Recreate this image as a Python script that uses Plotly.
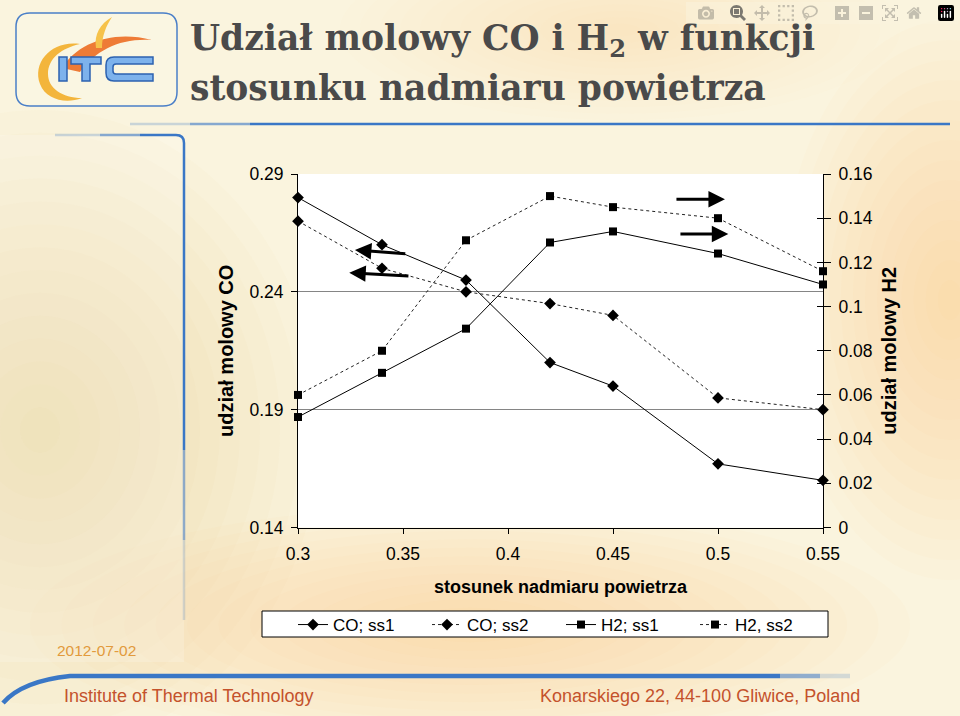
import plotly.graph_objects as go

W, H = 960, 716

# ---------------- data ----------------
x_ratio = [0.30, 0.34, 0.38, 0.42, 0.45, 0.50, 0.55]
co_ss1 = [0.280, 0.260, 0.245, 0.210, 0.200, 0.167, 0.160]
co_ss2 = [0.270, 0.250, 0.240, 0.235, 0.230, 0.195, 0.190]
h2_ss1 = [0.050, 0.070, 0.090, 0.129, 0.134, 0.124, 0.110]
h2_ss2 = [0.060, 0.080, 0.130, 0.150, 0.145, 0.140, 0.116]

x_ticks = [0.30, 0.35, 0.40, 0.45, 0.50, 0.55]
x_ticktext = ["0.3", "0.35", "0.4", "0.45", "0.5", "0.55"]
co_ticks = [0.14, 0.19, 0.24, 0.29]
co_ticktext = ["0.14", "0.19", "0.24", "0.29"]
h2_ticks = [0.0, 0.02, 0.04, 0.06, 0.08, 0.10, 0.12, 0.14, 0.16]
h2_ticktext = ["0", "0.02", "0.04", "0.06", "0.08", "0.1", "0.12", "0.14", "0.16"]

series_names = ["CO; ss1", "CO; ss2", "H2; ss1", "H2, ss2"]

# arrows (head x, head y, tail x, tail y) in data units
co_arrows = [(0.3271, 0.2578, 0.3518, 0.2561), (0.3244, 0.2481, 0.3533, 0.2467)]
h2_arrows = [(0.5033, 0.1486, 0.4795, 0.1486), (0.5049, 0.1328, 0.4814, 0.1328)]

title_line1 = "Udział molowy CO i H<sub>2</sub> w funkcji"
title_line2 = "stosunku nadmiaru powietrza"
x_title = "stosunek nadmiaru powietrza"
y_title = "udział molowy CO"
y2_title = "udział molowy H2"
date_text = "2012-07-02"
footer_left = "Institute of Thermal Technology"
footer_right = "Konarskiego 22, 44-100 Gliwice, Poland"

# ---------------- layout helpers (pixel -> paper) ----------------
def px(x):
    return x / W

def py(y):
    return 1 - y / H

def pxpath(s):
    out = []
    is_x = True
    for t in s.replace(",", " ").split():
        if t.isalpha():
            out.append(t)
            is_x = True
        else:
            v = float(t)
            out.append(f"{px(v):.5f}" if is_x else f"{py(v):.5f}")
            is_x = not is_x
    return " ".join(out)

PL, PR, PT, PB = 298, 823, 174, 527.5
FONT = "Liberation Sans"

fig = go.Figure()

line_black = "black"
fig.add_trace(go.Scatter(x=x_ratio, y=co_ss1, name=series_names[0], mode="lines+markers",
                         line=dict(color=line_black, width=1),
                         marker=dict(symbol="diamond", size=9, color=line_black),
                         cliponaxis=False))
fig.add_trace(go.Scatter(x=x_ratio, y=co_ss2, name=series_names[1], mode="lines+markers",
                         line=dict(color="#222222", width=1, dash="dot"),
                         marker=dict(symbol="diamond", size=9, color=line_black),
                         cliponaxis=False))
fig.add_trace(go.Scatter(x=x_ratio, y=h2_ss1, name=series_names[2], mode="lines+markers",
                         yaxis="y2",
                         line=dict(color=line_black, width=1),
                         marker=dict(symbol="square", size=8, color=line_black),
                         cliponaxis=False))
fig.add_trace(go.Scatter(x=x_ratio, y=h2_ss2, name=series_names[3], mode="lines+markers",
                         yaxis="y2",
                         line=dict(color="#222222", width=1, dash="dot"),
                         marker=dict(symbol="square", size=8, color=line_black),
                         cliponaxis=False))
# helper trace so the inner-tick axis is drawn
fig.add_trace(go.Scatter(x=[], y=[], yaxis="y3", showlegend=False, hoverinfo="skip"))

tickfont = dict(family=FONT, size=17.5, color="black")
titlefont = dict(family=FONT, size=20, color="black", weight="bold")

fig.update_layout(
    width=W, height=H,
    margin=dict(l=0, r=0, t=0, b=0, autoexpand=False),
    paper_bgcolor="#FAF4DE",
    plot_bgcolor="white",
    xaxis=dict(domain=[px(PL), px(PR)], range=[0.3, 0.55], tickvals=x_ticks, ticktext=x_ticktext,
               ticks="outside", ticklen=5, tickcolor="black", showline=True, linecolor="black",
               linewidth=1, showgrid=False, zeroline=False, tickfont=tickfont,
               ticklabelstandoff=5, automargin=False,
               title=dict(text=x_title, font=dict(family=FONT, size=18, color="black", weight="bold"),
                          standoff=17)),
    yaxis=dict(domain=[py(PB), py(PT)], range=[0.14, 0.29], tickvals=co_ticks, ticktext=co_ticktext,
               ticks="outside", ticklen=6, tickcolor="black", showline=True, linecolor="black",
               linewidth=1, showgrid=True, gridcolor="#858585", gridwidth=1, zeroline=False,
               tickfont=tickfont, ticklabelstandoff=4, automargin=False,
               title=dict(text=y_title, font=titlefont, standoff=10)),
    yaxis2=dict(overlaying="y", side="right", anchor="x", range=[0, 0.16], tickvals=h2_ticks,
                ticktext=h2_ticktext, ticks="outside", ticklen=7, tickcolor="black", showline=True,
                linecolor="black", linewidth=1, showgrid=False, zeroline=False, tickfont=tickfont,
                ticklabelstandoff=4, automargin=False,
                title=dict(text=y2_title, font=titlefont, standoff=10)),
    yaxis3=dict(overlaying="y", side="right", anchor="x", range=[0, 0.16], tickvals=h2_ticks,
                ticks="inside", ticklen=6, tickcolor="black", showticklabels=False,
                showline=False, showgrid=False, zeroline=False, automargin=False),
    legend=dict(orientation="h", x=px(293), y=py(607), xanchor="left", yanchor="top",
                bgcolor="rgba(0,0,0,0)", borderwidth=0, entrywidth=89, entrywidthmode="pixels",
                font=dict(family=FONT, size=17, color="black")),
    showlegend=True,
)

shapes = []

def glow(cx, cy, rx, ry, color, n=14, op=0.035):
    for i in range(n):
        f = 1 - i / n
        shapes.append(dict(type="circle", xref="paper", yref="paper", layer="below",
                           x0=px(cx - rx * f), x1=px(cx + rx * f),
                           y0=py(cy + ry * f), y1=py(cy - ry * f),
                           fillcolor=color, opacity=op, line=dict(width=0)))

glow(40, 430, 280, 320, "#F0C266")
glow(470, 625, 440, 120, "#F2CC70")
glow(950, 300, 170, 280, "#F4D37E")
glow(620, 30, 280, 90, "#F6E2A8", op=0.03)

# left light panel
shapes.append(dict(type="rect", xref="paper", yref="paper", layer="below",
                   x0=px(0), x1=px(184), y0=py(662), y1=py(135),
                   fillcolor="white", opacity=0.18, line=dict(width=0)))
# white plot area
shapes.append(dict(type="rect", xref="paper", yref="paper", layer="below",
                   x0=px(PL), x1=px(PR), y0=py(PB), y1=py(PT),
                   fillcolor="white", line=dict(width=0)))
# legend box
shapes.append(dict(type="rect", xref="paper", yref="paper", layer="below",
                   x0=px(262), x1=px(828), y0=py(637), y1=py(611),
                   fillcolor="white", line=dict(color="black", width=1)))

BLUE = "#3A77C6"
def seg(path, width, op):
    shapes.append(dict(type="path", xref="paper", yref="paper", layer="below",
                       path=pxpath(path), line=dict(color=BLUE, width=width), opacity=op))

# title underline
seg("M 130 124 L 190 124", 2.5, 0.25)
seg("M 190 124 L 250 124", 2.5, 0.6)
seg("M 250 124 L 950 124", 2.5, 1.0)
# left panel border
seg("M 55 135 L 100 135", 2.5, 0.25)
seg("M 100 135 L 140 135", 2.5, 0.6)
seg("M 140 135 L 176 135 Q 184 135 184 143 L 184 450", 2.5, 1.0)
seg("M 184 450 L 184 540", 2.5, 0.55)
seg("M 184 540 L 184 620", 2.5, 0.2)
# footer line
seg("M 3 703 Q 22 681 70 676 L 780 676", 4.5, 1.0)
seg("M 780 676 L 820 676", 4.5, 0.55)
seg("M 820 676 L 850 676", 4.5, 0.2)

# logo box
shapes.append(dict(type="path", xref="paper", yref="paper", layer="below",
                   path=pxpath("M 30 13 L 163 13 Q 177 13 177 27 L 177 92 Q 177 106 163 106 "
                               "L 30 106 Q 16 106 16 92 L 16 27 Q 16 13 30 13 Z"),
                   fillcolor="rgba(250,246,228,0.6)", line=dict(color="#4A7FC8", width=1.5)))
# flame swirl
shapes.append(dict(type="path", xref="paper", yref="paper", layer="below",
                   path=pxpath("M 80 44 C 52 40 32 62 40 84 C 46 100 66 104 82 98 "
                               "C 62 98 48 88 48 74 C 48 58 62 48 80 44 Z"),
                   fillcolor="#F3B53C", line=dict(width=0)))
shapes.append(dict(type="path", xref="paper", yref="paper", layer="below",
                   path=pxpath("M 62 68 C 78 42 114 30 152 40 C 120 38 96 50 80 72 Z"),
                   fillcolor="#EE7B36", line=dict(width=0)))
shapes.append(dict(type="path", xref="paper", yref="paper", layer="below",
                   path=pxpath("M 96 48 C 94 34 100 24 112 17 C 106 26 102 36 102 48 Z"),
                   fillcolor="#F6C24A", line=dict(width=0)))
# ITC letters
letter_style = dict(fillcolor="#7DB2EC", line=dict(color="#2C62B0", width=1.5))
for p in ["M 59 57 L 67 57 L 67 81 L 59 81 Z",
          "M 71 57 L 101 57 L 101 64 L 90 64 L 90 81 L 82 81 L 82 64 L 71 64 Z",
          "M 153 57 L 114 57 Q 106 57 106 65 L 106 73 Q 106 81 114 81 L 153 81 L 153 74 "
          "L 116 74 Q 113 74 113 71 L 113 67 Q 113 64 116 64 L 153 64 Z"]:
    shapes.append(dict(type="path", xref="paper", yref="paper", layer="below",
                       path=pxpath(p), **letter_style))

annotations = []
for hx, hy, tx, ty in co_arrows:
    annotations.append(dict(x=hx, y=hy, ax=tx, ay=ty, xref="x", yref="y", axref="x", ayref="y",
                            text="", showarrow=True, arrowhead=2, arrowsize=1.1, arrowwidth=3,
                            arrowcolor="black"))
for hx, hy, tx, ty in h2_arrows:
    annotations.append(dict(x=hx, y=hy, ax=tx, ay=ty, xref="x", yref="y2", axref="x", ayref="y2",
                            text="", showarrow=True, arrowhead=2, arrowsize=1.1, arrowwidth=3,
                            arrowcolor="black"))

title_font = dict(family="DejaVu Serif", size=34.5, color="#4A4A4A", weight="bold")
annotations.append(dict(text=title_line1, x=px(188), y=py(40), xref="paper", yref="paper",
                        xanchor="left", yanchor="middle", showarrow=False, font=title_font))
annotations.append(dict(text=title_line2, x=px(188), y=py(88), xref="paper", yref="paper",
                        xanchor="left", yanchor="middle", showarrow=False, font=title_font))
annotations.append(dict(text=date_text, x=px(55), y=py(650), xref="paper", yref="paper",
                        xanchor="left", yanchor="middle", showarrow=False,
                        font=dict(family=FONT, size=15.5, color="#E29A3C")))
annotations.append(dict(text=footer_left, x=px(62), y=py(696), xref="paper", yref="paper",
                        xanchor="left", yanchor="middle", showarrow=False,
                        font=dict(family=FONT, size=18, color="#C4522C")))
annotations.append(dict(text=footer_right, x=px(538), y=py(696), xref="paper", yref="paper",
                        xanchor="left", yanchor="middle", showarrow=False,
                        font=dict(family=FONT, size=18, color="#C4522C")))

fig.update_layout(shapes=shapes, annotations=annotations)

fig.write_html("out.html", post_script="document.body.style.margin='0';")
